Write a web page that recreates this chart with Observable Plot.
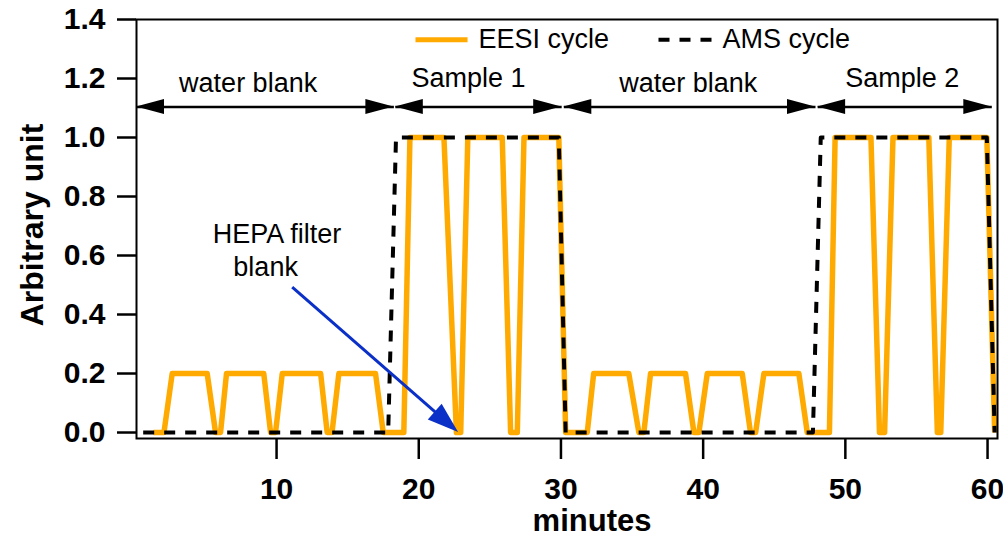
<!DOCTYPE html>
<html>
<head>
<meta charset="utf-8">
<script src="https://cdn.jsdelivr.net/npm/d3@7"></script>
<script src="https://cdn.jsdelivr.net/npm/@observablehq/plot@0.6"></script>
<style>
  html, body { margin: 0; padding: 0; background: #ffffff; }
  #chart svg { display: block; }
</style>
</head>
<body>
<div id="chart"></div>
<script>
// EESI cycle: time (minutes) and normalised signal
const eesiMinutes = [
  1.35, 2.08, 2.66, 5.12, 5.71, 6.06, 6.48, 9.1, 9.58, 9.93, 10.4, 13.1,
  13.56, 13.9, 14.38, 16.96, 17.5, 18.95, 19.38, 21.77, 22.65, 22.95, 23.45, 25.87,
  26.46, 26.93, 27.4, 29.85, 30.33, 31.85, 32.3, 34.77, 35.48, 35.83, 36.3, 38.76,
  39.35, 39.7, 40.29, 42.75, 43.33, 43.69, 44.27, 46.73, 47.32, 48.88, 49.28, 51.8,
  52.4, 52.76, 53.35, 55.87, 56.47, 56.71, 57.31, 59.95, 60.5
];
const eesiValues = [
  0, 0, 0.2, 0.2, 0, 0, 0.2, 0.2, 0, 0, 0.2, 0.2,
  0, 0, 0.2, 0.2, 0, 0, 1, 1, 0, 0, 1, 1,
  0, 0, 1, 1, 0, 0, 0.2, 0.2, 0, 0, 0.2, 0.2,
  0, 0, 0.2, 0.2, 0, 0, 0.2, 0.2, 0, 0, 1, 1,
  0, 0, 1, 1, 0, 0, 1, 1, 0
];

// AMS cycle: time (minutes) and normalised signal
const amsMinutes = [0.62, 17.85, 18.4, 29.85, 30.33, 47.72, 48.27, 59.95, 60.5];
const amsValues = [0, 0, 1, 1, 0, 0, 1, 1, 0];

// Sampling periods marked along the top
const periodNames = ["water blank", "Sample 1", "water blank", "Sample 2"];
const periodStart = [0.15, 18.35, 30.2, 48.05];
const periodEnd = [18.25, 30.05, 47.9, 60.3];

// Axis ticks and titles
const xTicks = [10, 20, 30, 40, 50, 60];
const yTicks = [0, 0.2, 0.4, 0.6, 0.8, 1.0, 1.2, 1.4];
const xTitle = "minutes";
const yTitle = "Arbitrary unit";

// Series names and annotation text
const seriesNames = ["EESI cycle", "AMS cycle"];
const hepaLines = ["HEPA filter", "blank"];

// ---- layout (data units) ----
const orange = "#FFAA00";
const blue = "#0A30C8";
const spanArrowY = 1.103;
const periodLabelX = [8.0, 23.5, 38.95, 54.0];
const periodLabelY = [1.1536, 1.1705, 1.1536, 1.1705];
const legendY = 1.331;
const legendSwatchX = [[19.77, 23.43], [36.86, 40.66]];
const legendTextX = [24.2, 41.36];
const hepaTextX = [10.03, 9.23];
const hepaTextY = [0.6407, 0.532];
const hepaArrowStart = {x: 11.1, y: 0.4925};

const eesi = eesiMinutes.map((m, i) => ({minute: m, value: eesiValues[i]}));
const ams = amsMinutes.map((m, i) => ({minute: m, value: amsValues[i]}));
const periods = periodNames.map((name, i) => ({
  name, start: periodStart[i], end: periodEnd[i], lx: periodLabelX[i], ly: periodLabelY[i]
}));
// the HEPA arrow points at the first dip of the EESI trace during Sample 1
const hepaTip = {x: (eesiMinutes[20] + eesiMinutes[21]) / 2, y: eesiValues[20]};
const hepaArrow = [{x1: hepaArrowStart.x, y1: hepaArrowStart.y, x2: hepaTip.x, y2: hepaTip.y}];

// double-headed span arrows: one head at each end
const spanHeads = periods.flatMap(p => [
  {x1: p.end, y1: spanArrowY, x2: p.start, y2: spanArrowY},
  {x1: p.start, y1: spanArrowY, x2: p.end, y2: spanArrowY}
]);

// filled triangular arrow heads, placed through the plot's scales
function filledHeads(segments, {length, halfWidth, fill}) {
  return (index, scales) => {
    const g = d3.create("svg:g").attr("fill", fill);
    for (const s of segments) {
      const X1 = scales.x(s.x1), Y1 = scales.y(s.y1);
      const X2 = scales.x(s.x2), Y2 = scales.y(s.y2);
      const a = Math.atan2(Y2 - Y1, X2 - X1);
      const ux = Math.cos(a), uy = Math.sin(a);
      const bx = X2 - ux * length, by = Y2 - uy * length;
      g.append("path").attr("d",
        `M${X2},${Y2}L${bx - uy * halfWidth},${by + ux * halfWidth}L${bx + uy * halfWidth},${by - ux * halfWidth}Z`);
    }
    return g.node();
  };
}

const chart = Plot.plot({
  width: 1003,
  height: 548,
  marginLeft: 136,
  marginRight: 6,
  marginTop: 19,
  marginBottom: 110,
  style: {fontFamily: "'Liberation Sans', Arial, Helvetica, sans-serif", background: "#ffffff", color: "#000000"},
  x: {domain: [0.15, 60.7]},
  y: {domain: [-0.0203, 1.4]},
  marks: [
    Plot.axisX({ticks: xTicks, tickSize: 21, tickPadding: 18, strokeWidth: 2.5,
      fontSize: 30, fontWeight: "bold", label: null}),
    Plot.axisY({ticks: yTicks, tickFormat: d3.format(".1f"), tickSize: 19, tickPadding: 12,
      strokeWidth: 2.5, fontSize: 30, fontWeight: "bold", label: null}),
    Plot.text([yTitle], {frameAnchor: "left", rotate: -90, dx: -104, dy: -4,
      fontSize: 32, fontWeight: "bold", textAnchor: "middle", lineAnchor: "middle"}),
    Plot.text([xTitle], {frameAnchor: "bottom", dx: 25, dy: 92, lineAnchor: "bottom",
      fontSize: 31, fontWeight: "bold"}),

    // data
    Plot.line(eesi, {x: "minute", y: "value", stroke: orange, strokeWidth: 5.5,
      strokeLinejoin: "round", strokeLinecap: "butt"}),
    Plot.line(ams, {x: "minute", y: "value", stroke: "black", strokeWidth: 4,
      strokeDasharray: "11,10", strokeLinecap: "butt"}),

    // sampling periods
    Plot.link(periods, {x1: "start", x2: "end", y1: spanArrowY, y2: spanArrowY,
      stroke: "black", strokeWidth: 2.5}),
    filledHeads(spanHeads, {length: 28, halfWidth: 7.5, fill: "black"}),
    Plot.text(periods, {x: "lx", y: "ly", text: "name", lineAnchor: "bottom", fontSize: 27}),

    // HEPA filter blank annotation
    Plot.arrow(hepaArrow, {x1: "x1", y1: "y1", x2: "x2", y2: "y2", stroke: blue,
      strokeWidth: 3, headLength: 0, insetEnd: 16, strokeLinecap: "butt"}),
    filledHeads(hepaArrow, {length: 31, halfWidth: 10.5, fill: blue}),
    Plot.text(hepaLines, {x: hepaTextX, y: hepaTextY, text: d => d, lineAnchor: "bottom", fontSize: 27}),

    // legend
    Plot.link([seriesNames[0]], {x1: legendSwatchX[0][0], x2: legendSwatchX[0][1], y1: legendY, y2: legendY,
      stroke: orange, strokeWidth: 5}),
    Plot.link([seriesNames[1]], {x1: legendSwatchX[1][0], x2: legendSwatchX[1][1], y1: legendY, y2: legendY,
      stroke: "black", strokeWidth: 4, strokeDasharray: "11,10"}),
    Plot.text(seriesNames, {x: legendTextX, y: legendY, text: d => d, textAnchor: "start",
      lineAnchor: "middle", fontSize: 27}),

    Plot.frame({stroke: "black", strokeWidth: 2})
  ]
});

document.getElementById("chart").append(chart);
</script>
</body>
</html>
